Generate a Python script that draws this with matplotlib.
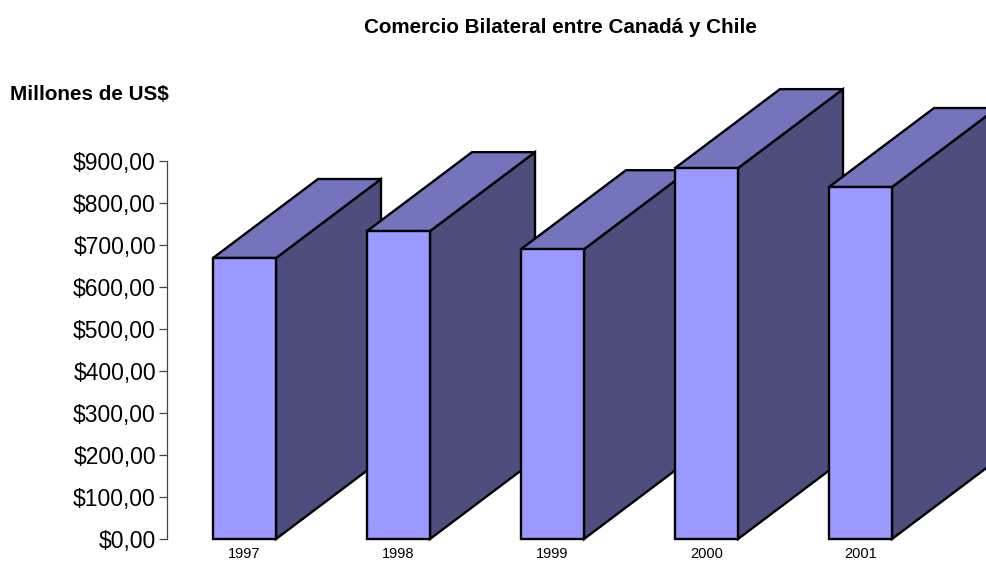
import matplotlib
matplotlib.use("Agg")
import matplotlib.pyplot as plt
from matplotlib.patches import Polygon
from matplotlib.ticker import FuncFormatter

plt.rcParams["font.family"] = ["Liberation Sans", "DejaVu Sans"]

years = ["1997", "1998", "1999", "2000", "2001"]
values = [669, 733, 690, 883, 838]
y_ticks = [0, 100, 200, 300, 400, 500, 600, 700, 800, 900]

W, H = 987, 562
fig = plt.figure(figsize=(W / 100, H / 100), dpi=100)

# axes placed in pixels: left spine at x=167, zero line at y=539
ax_left, ax_bottom, ax_top = 167, 539, 70
ax = fig.add_axes([ax_left / W, (H - ax_bottom) / H, (W - ax_left) / W,
                   (ax_bottom - ax_top) / H])

px_per_cat = 154.0
px_per_unit = 0.42
center0 = 244.5
xmin = (ax_left - center0) / px_per_cat
xmax = (W - center0) / px_per_cat
ax.set_xlim(xmin, xmax)
ax.set_ylim(0, (ax_bottom - ax_top) / px_per_unit)

bar_w = 63 / px_per_cat
dx = 105 / px_per_cat
dy = 79 / px_per_unit

front_c = "#9999FF"
top_c = "#7474BC"
side_c = "#4D4D7E"

for i, v in enumerate(values):
    l, r = i - bar_w / 2, i + bar_w / 2
    side = Polygon([(r, 0), (r + dx, dy), (r + dx, v + dy), (r, v)],
                   closed=True, facecolor=side_c, edgecolor="black",
                   linewidth=1.7, joinstyle="miter", clip_on=False)
    top = Polygon([(l, v), (l + dx, v + dy), (r + dx, v + dy), (r, v)],
                  closed=True, facecolor=top_c, edgecolor="black",
                  linewidth=1.7, joinstyle="miter", clip_on=False)
    front = Polygon([(l, 0), (l, v), (r, v), (r, 0)],
                    closed=True, facecolor=front_c, edgecolor="black",
                    linewidth=1.7, joinstyle="miter", clip_on=False)
    ax.add_patch(side)
    ax.add_patch(top)
    ax.add_patch(front)

for s in ["top", "right", "bottom"]:
    ax.spines[s].set_visible(False)
ax.spines["left"].set_bounds(0, 900)
ax.spines["left"].set_color("#444444")
ax.spines["left"].set_linewidth(0.9)

ax.set_yticks(y_ticks)
ax.yaxis.set_major_formatter(FuncFormatter(lambda v, p: f"${v:,.2f}".replace(".", ",")))
ax.tick_params(axis="y", direction="out", length=5.5, width=0.9, color="#444444",
               pad=2.5, labelsize=16.5)

ax.set_xticks(range(len(years)))
ax.set_xticklabels(years)
ax.tick_params(axis="x", length=0, pad=5.5, labelsize=10.5)

fig.text(560 / W, 1 - 33 / H, "Comercio Bilateral entre Canadá y Chile",
         ha="center", va="baseline", fontsize=14.9, fontweight="bold")
fig.text(10 / W, 1 - 100 / H, "Millones de US$", ha="left", va="baseline",
         fontsize=14.9, fontweight="bold")

fig.savefig("out.png", dpi=100)
